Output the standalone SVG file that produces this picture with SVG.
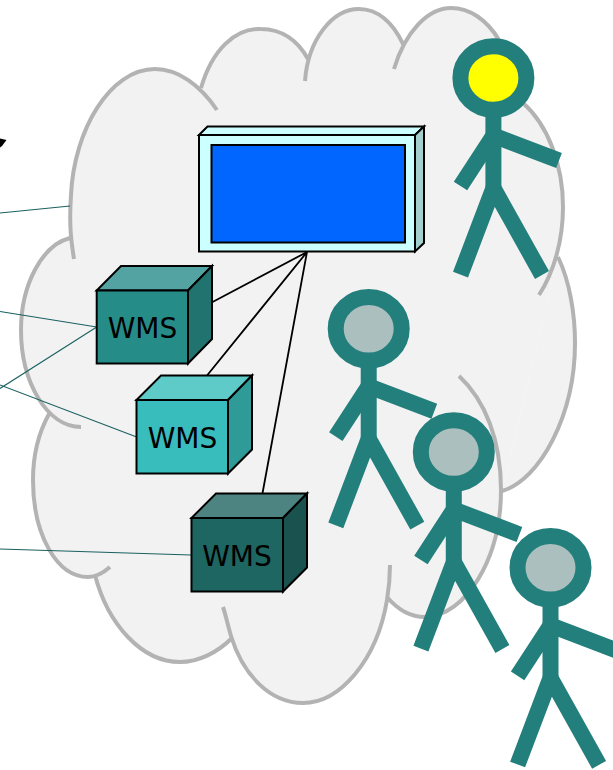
<svg xmlns="http://www.w3.org/2000/svg" xmlns:xlink="http://www.w3.org/1999/xlink" width="613" height="770" viewBox="0 0 613 770">
<style>
.edge{fill:none;stroke:#000;stroke-width:2;stroke-linejoin:miter}
.link{fill:none;stroke:#1a6060;stroke-width:1.1}
.wire{fill:none;stroke:#000;stroke-width:1.8}
.cloudfill{fill:#f2f2f2;stroke:none}
.cloudline{fill:none;stroke:#b3b3b3;stroke-width:4}
.limb{fill:none;stroke:#237f7c;stroke-width:16;stroke-linejoin:bevel}
.head{stroke:#237f7c;stroke-width:16}
.lbl{font-family:"DejaVu Sans",sans-serif;font-size:28px;text-anchor:middle;fill:#000}
</style>
<defs>
<g id="stick">
<line class="limb" x1="493.4" y1="110" x2="493.4" y2="187"/>
<polyline class="limb" points="460.5,186 493.4,135.5 559,160.5"/>
<polyline class="limb" points="460.5,274.7 493.4,188 542,275"/>
</g>
<path id="lobes" d="M74,259 C71,240 69,225 71,195 C74,130 110,69 155,69 C178,69 200,85 217,110 M201,88 C212,50 235,28 261,29 C282,29 298,41 308,59 M305,81 C308,40 332,9 359,9 C378,9 393,23 403,44 M394,69 C405,32 428,8 451,8 C470,8 487,20 499,40 M523,103 C548,125 563,165 563,207 C563,240 554,272 539,295 M558,257 C570,282 575,315 575,343 C575,415 540,480 502,491 M459,376 C485,400 501,440 501,490 C501,560 465,616 425,617 C410,617 398,610 387,597 M390,565 C390,578 389,588 387,600 C377,660 340,703 303,703 C270,703 243,675 231,636 C228,626 226,616 223,607 M232,638 C217,653 198,662 180,662 C142,662 108,625 95,575 M110,567 C102,574 95,577 88,577 C57,577 33,535 33,480 C33,455 39,432 49,414 M81,427 C47,427 21,382 21,330 C21,285 42,245 70,238"/>
</defs>
<g id="cloud">
<use xlink:href="#lobes" href="#lobes" class="cloudfill"/>
<polygon class="cloudfill" points="70,238 74,200 200,88 308,59 403,44 499,40 523,103 563,207 558,257 502,491 425,617 387,597 303,650 232,638 180,640 95,575 49,414 21,330"/>
<use xlink:href="#lobes" href="#lobes" class="cloudline"/>
</g>
<g id="connectors">
<path class="link" d="M0,213 L70,206 M0,311.5 L96.7,327 M0,388.5 L96.7,327 M0,385 L136,436.7 M0,549 L191,555"/>
<path class="wire" d="M307,252 L205,306 M307,252 L205,378 M307,252 L262,496"/>
<polygon points="0,138.5 6.5,140 2,146 0,147.5" fill="#000"/>
</g>
<g id="monitor">
<polygon class="edge" style="fill:#ccffff" points="199,135 207.500,126.500 424,126.500 415,135"/>
<polygon class="edge" style="fill:#a3cfcc" points="415,135 424,126.500 424,243 415,251.500"/>
<rect class="edge" style="fill:#ccffff" x="199" y="135" width="216" height="116.500"/>
<rect class="edge" style="fill:#0066ff" x="211.500" y="145" width="193.500" height="97.500"/>
</g>
<g id="wms1">
<polygon class="edge" style="fill:#52a3a1" points="96.700,290.500 121,266 212,266 188,290.500"/>
<polygon class="edge" style="fill:#217370" points="188,290.500 212,266 212,339 188,363.500"/>
<rect class="edge" style="fill:#268c88" x="96.700" y="290.500" width="91.300" height="73"/>
<text class="lbl" x="142.500" y="338">WMS</text>
</g>
<g id="wms2">
<polygon class="edge" style="fill:#5fcbc9" points="136.500,400 161,375.500 252,375.500 228,400"/>
<polygon class="edge" style="fill:#2e9b98" points="228,400 252,375.500 252,449.500 228,473.500"/>
<rect class="edge" style="fill:#38bcbc" x="136.500" y="400" width="91.500" height="73.500"/>
<text class="lbl" x="182.500" y="448">WMS</text>
</g>
<g id="wms3">
<polygon class="edge" style="fill:#4d8380" points="191.500,518 216,493.500 307,493.500 283,518"/>
<polygon class="edge" style="fill:#19524e" points="283,518 307,493.500 307,567.500 283,591.500"/>
<rect class="edge" style="fill:#1d6661" x="191.500" y="518" width="91.500" height="73.500"/>
<text class="lbl" x="237" y="566">WMS</text>
</g>
<g id="person1">
<use xlink:href="#stick" href="#stick"/>
<ellipse class="head" cx="493.400" cy="78" rx="33" ry="31.800" fill="#ffff00"/>
</g>
<g id="person2">
<use xlink:href="#stick" href="#stick" transform="translate(-124.700,250.700)"/>
<ellipse class="head" cx="368.700" cy="328.700" rx="33" ry="31.800" fill="#abbfbf"/>
</g>
<g id="person3">
<use xlink:href="#stick" href="#stick" transform="translate(-39.600,374)"/>
<ellipse class="head" cx="453.800" cy="452" rx="33" ry="31.800" fill="#abbfbf"/>
</g>
<g id="person4">
<use xlink:href="#stick" href="#stick" transform="translate(57.100,489.800)"/>
<ellipse class="head" cx="550.500" cy="567.800" rx="33" ry="31.800" fill="#abbfbf"/>
</g>
</svg>
